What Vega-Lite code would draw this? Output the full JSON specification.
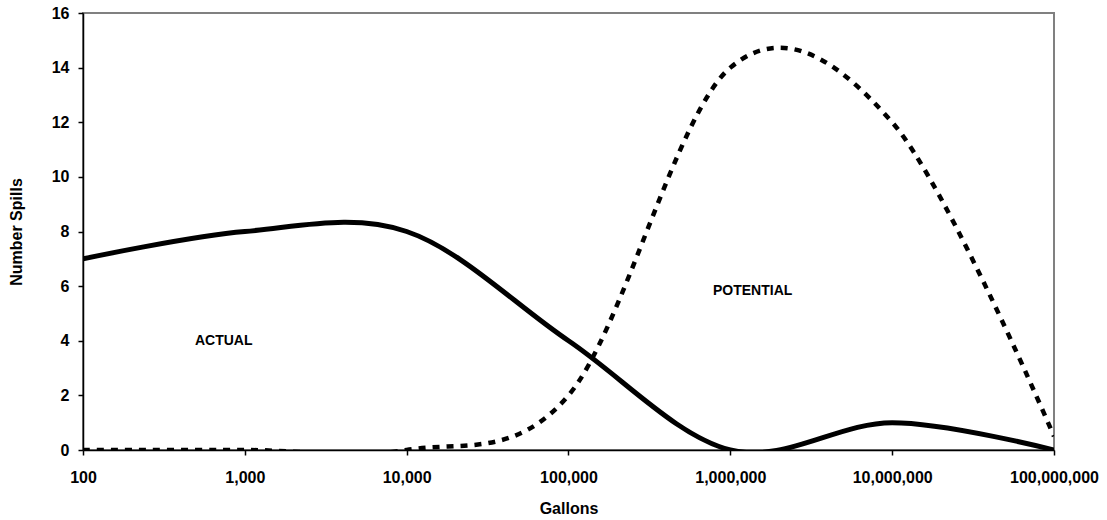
{
  "$schema": "https://vega.github.io/schema/vega-lite/v6.json",
  "width": 971,
  "height": 437,
  "autosize": "none",
  "padding": {"left": 83, "top": 13, "right": 53, "bottom": 70},
  "background": "white",
  "config": {
    "view": {"stroke": "#808080", "strokeWidth": 2},
    "font": "Liberation Sans",
    "axis": {
      "grid": false,
      "domainColor": "black",
      "domainWidth": 1.5,
      "tickColor": "black",
      "tickWidth": 1.5,
      "tickSize": 5,
      "labelFont": "Liberation Sans",
      "labelFontWeight": "bold",
      "labelFontSize": 16,
      "labelColor": "black",
      "titleFont": "Liberation Sans",
      "titleFontWeight": "bold",
      "titleFontSize": 16,
      "titleColor": "black"
    }
  },
  "datasets": {
    "actual": [
      {"gallons": 100, "spills": 7},
      {"gallons": 1000, "spills": 8},
      {"gallons": 10000, "spills": 8},
      {"gallons": 100000, "spills": 4},
      {"gallons": 1000000, "spills": 0},
      {"gallons": 10000000, "spills": 1},
      {"gallons": 100000000, "spills": 0}
    ],
    "potential": [
      {"gallons": 100, "spills": 0},
      {"gallons": 1000, "spills": 0},
      {"gallons": 10000, "spills": 0},
      {"gallons": 100000, "spills": 2},
      {"gallons": 1000000, "spills": 14},
      {"gallons": 10000000, "spills": 12},
      {"gallons": 100000000, "spills": 0.5}
    ],
    "labels": [
      {"gallons": 740, "spills": 4, "label": "ACTUAL"},
      {"gallons": 1374000, "spills": 5.83, "label": "POTENTIAL"}
    ]
  },
  "encoding": {
    "x": {
      "field": "gallons",
      "type": "quantitative",
      "scale": {"type": "log", "domain": [100, 100000000], "nice": false},
      "axis": {
        "values": [100, 1000, 10000, 100000, 1000000, 10000000, 100000000],
        "format": ",.0f",
        "title": "Gallons",
        "labelPadding": 14,
        "labelFlush": false,
        "labelOverlap": false,
        "titleY": 63,
        "titleBaseline": "alphabetic"
      }
    },
    "y": {
      "field": "spills",
      "type": "quantitative",
      "scale": {"domain": [0, 16], "nice": false},
      "axis": {
        "values": [0, 2, 4, 6, 8, 10, 12, 14, 16],
        "title": "Number Spills",
        "labelPadding": 9,
        "titleX": -62,
        "titleBaseline": "alphabetic"
      }
    }
  },
  "layer": [
    {
      "data": {"name": "potential"},
      "mark": {"type": "line", "interpolate": "cardinal", "color": "black", "strokeWidth": 4.5, "strokeDash": [7, 7], "strokeCap": "butt", "clip": true}
    },
    {
      "data": {"name": "actual"},
      "mark": {"type": "line", "interpolate": "cardinal", "color": "black", "strokeWidth": 5, "clip": true}
    },
    {
      "data": {"name": "labels"},
      "mark": {"type": "text", "fontSize": 14, "fontWeight": "bold", "font": "Liberation Sans", "color": "black", "align": "center", "baseline": "middle"},
      "encoding": {"text": {"field": "label"}}
    }
  ]
}
